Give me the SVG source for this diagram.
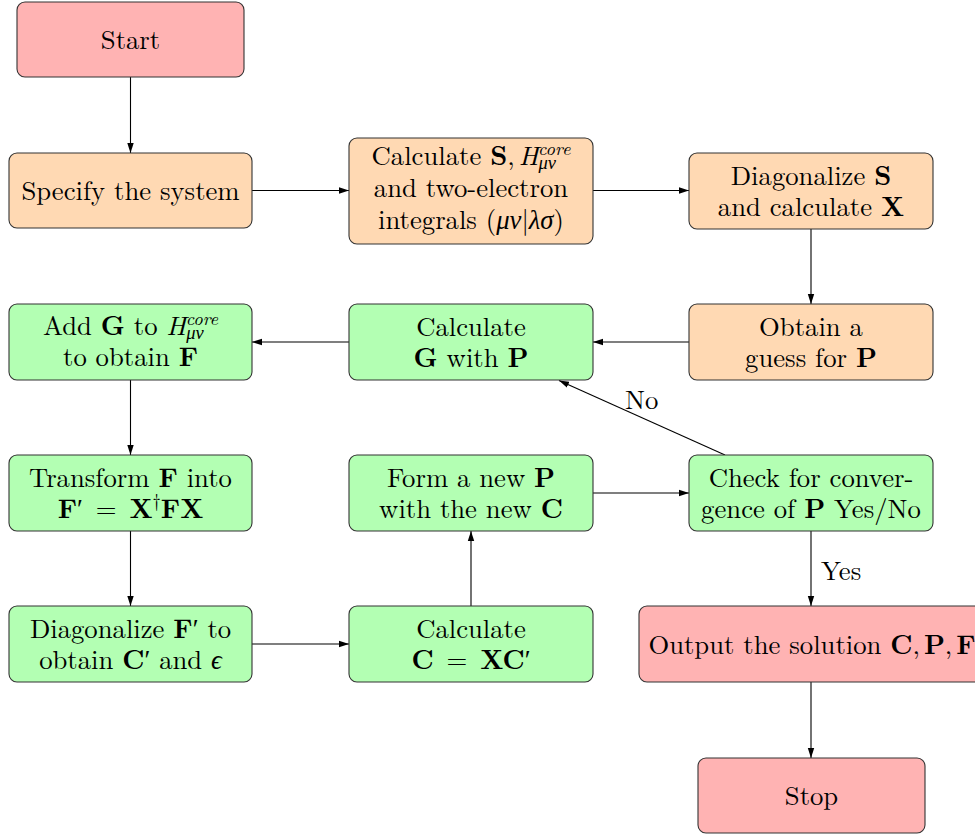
<svg xmlns="http://www.w3.org/2000/svg" width="975" height="836" viewBox="0 0 975 836" font-family="'Latin Modern Roman','Liberation Serif','DejaVu Serif',serif" font-size="26.7">
<defs>
<style>
.box{stroke:#333;stroke-width:1.1}
.red{fill:#FFB3B3}
.org{fill:#FFD9B3}
.grn{fill:#B3FFB3}
.t{fill:#000;text-anchor:middle}
.b{font-weight:bold}
.i{font-style:italic}
.sm{font-size:18.5px}
.lbl{fill:#000;text-anchor:start}
.conn line{stroke:#000;stroke-width:1.1;fill:none;marker-end:url(#ah)}
</style>
<marker id="ah" markerUnits="userSpaceOnUse" viewBox="0 0 10 8" markerWidth="10" markerHeight="8" refX="10" refY="4" orient="auto">
<path d="M0,0.8 L10,4 L0,7.2 z" fill="#000"/>
</marker>
</defs>
<rect width="975" height="836" fill="#fff"/>

<g id="connectors" class="conn">
<line x1="130.5" y1="77" x2="130.5" y2="153"/>
<line x1="252" y1="190.5" x2="349" y2="190.5"/>
<line x1="593" y1="190.5" x2="689" y2="190.5"/>
<line x1="811" y1="229" x2="811" y2="304"/>
<line x1="689" y1="342" x2="593" y2="342"/>
<line x1="349" y1="342" x2="252" y2="342"/>
<line x1="130.5" y1="380" x2="130.5" y2="455"/>
<line x1="130.5" y1="531" x2="130.5" y2="606"/>
<line x1="252" y1="644" x2="349" y2="644"/>
<line x1="471" y1="606" x2="471" y2="531"/>
<line x1="593" y1="493" x2="689" y2="493"/>
<line x1="811" y1="531" x2="811" y2="606"/>
<line x1="811" y1="682" x2="811" y2="758"/>
<line x1="725" y1="455" x2="559" y2="380.5"/>
<text class="lbl" x="625" y="409">No</text>
<text class="lbl" x="821" y="580">Yes</text>
</g>

<g id="start">
<rect class="box red" x="17" y="2" width="227" height="75" rx="8"/>
<text class="t" x="130.5" y="49">Start</text>
</g>

<g id="specify">
<rect class="box org" x="9" y="153" width="243" height="75" rx="8"/>
<text class="t" x="130.5" y="200">Specify the system</text>
</g>

<g id="calcS">
<rect class="box org" x="349" y="138" width="244" height="106" rx="8"/>
<text class="t" x="471" y="165">Calculate <tspan class="b">S</tspan>,<tspan dx="4" class="i">H</tspan><tspan font-family="'Liberation Serif',serif" font-style="italic" class="sm" dy="4">μν</tspan><tspan class="i sm" dx="-18" dy="-14">core</tspan></text>
<text class="t" x="471" y="197">and two-electron</text>
<text class="t" x="471" y="229">integrals (<tspan font-family="'Liberation Serif',serif" font-style="italic">μν</tspan>|<tspan font-family="'Liberation Serif',serif" font-style="italic">λσ</tspan>)</text>
</g>

<g id="diagS">
<rect class="box org" x="689" y="153" width="244" height="76" rx="8"/>
<text class="t" x="811" y="185">Diagonalize <tspan class="b">S</tspan></text>
<text class="t" x="811" y="216">and calculate <tspan class="b">X</tspan></text>
</g>

<g id="guess">
<rect class="box org" x="689" y="304" width="244" height="76" rx="8"/>
<text class="t" x="811" y="336">Obtain a</text>
<text class="t" x="811" y="367">guess for <tspan class="b">P</tspan></text>
</g>

<g id="calcG">
<rect class="box grn" x="349" y="304" width="244" height="76" rx="8"/>
<text class="t" x="471" y="336">Calculate</text>
<text class="t" x="471" y="367"><tspan class="b">G</tspan> with <tspan class="b">P</tspan></text>
</g>

<g id="addG">
<rect class="box grn" x="9" y="304" width="243" height="76" rx="8"/>
<text class="t" x="130.5" y="335">Add <tspan class="b">G</tspan> to <tspan class="i">H</tspan><tspan font-family="'Liberation Serif',serif" font-style="italic" class="sm" dy="4">μν</tspan><tspan class="i sm" dx="-18" dy="-14">core</tspan></text>
<text class="t" x="130.5" y="366">to obtain <tspan class="b">F</tspan></text>
</g>

<g id="transform">
<rect class="box grn" x="9" y="455" width="243" height="76" rx="8"/>
<text class="t" x="130.5" y="487">Transform <tspan class="b">F</tspan> into</text>
<text class="t" x="130.5" y="518"><tspan class="b">F</tspan>′ <tspan dx="4">=</tspan> <tspan class="b" dx="4">X</tspan><tspan class="sm" dy="-11">†</tspan><tspan class="b" dy="11">FX</tspan></text>
</g>

<g id="formP">
<rect class="box grn" x="349" y="455" width="244" height="76" rx="8"/>
<text class="t" x="471" y="487">Form a new <tspan class="b">P</tspan></text>
<text class="t" x="471" y="518">with the new <tspan class="b">C</tspan></text>
</g>

<g id="check">
<rect class="box grn" x="689" y="455" width="244" height="76" rx="8"/>
<text class="t" x="811" y="487">Check for conver-</text>
<text class="t" x="811" y="518">gence of <tspan class="b">P</tspan> Yes/No</text>
</g>

<g id="diagF">
<rect class="box grn" x="9" y="606" width="243" height="76" rx="8"/>
<text class="t" x="130.5" y="638">Diagonalize <tspan class="b">F</tspan>′ to</text>
<text class="t" x="130.5" y="669">obtain <tspan class="b">C</tspan>′ and <tspan font-family="'Liberation Serif',serif" font-style="italic">ϵ</tspan></text>
</g>

<g id="calcC">
<rect class="box grn" x="349" y="606" width="244" height="76" rx="8"/>
<text class="t" x="471" y="638">Calculate</text>
<text class="t" x="471" y="669"><tspan class="b">C</tspan> <tspan dx="4">=</tspan> <tspan class="b" dx="4">XC</tspan>′</text>
</g>

<g id="output">
<rect class="box red" x="639" y="606" width="344" height="76" rx="8"/>
<text class="t" x="812" y="654">Output the solution <tspan class="b">C</tspan>,<tspan class="b" dx="4">P</tspan>,<tspan class="b" dx="4">F</tspan></text>
</g>

<g id="stop">
<rect class="box red" x="698" y="758" width="227" height="75" rx="8"/>
<text class="t" x="811.5" y="805">Stop</text>
</g>
</svg>
